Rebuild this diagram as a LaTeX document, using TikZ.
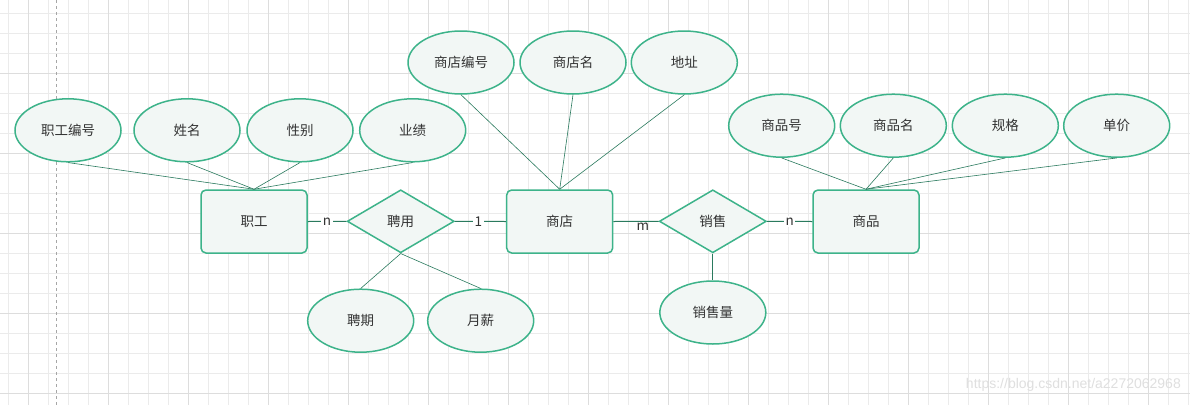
\documentclass[tikz,border=0pt]{standalone}
\usepackage{fontspec}
\setmainfont{Noto Sans CJK SC}
\newfontfamily\wmfont{Liberation Sans}
\usetikzlibrary{shapes.geometric}
\definecolor{strokec}{HTML}{3DB38A}
\definecolor{fillc}{HTML}{F2F7F5}
\definecolor{connc}{HTML}{2A7A5E}
\definecolor{txtc}{HTML}{333333}
\definecolor{gridminor}{HTML}{EBEBEB}
\definecolor{gridmajor}{HTML}{DDDDDD}
\begin{document}
\begin{tikzpicture}[x=1pt,y=-1pt,
  lbl/.style={text=txtc, font=\fontsize{13.5}{15}\selectfont},
  attr/.style={lbl, ellipse, draw=strokec, fill=fillc, line width=1.5pt, minimum width=106pt, minimum height=63pt, inner sep=0pt},
  ent/.style={lbl, rectangle, rounded corners=5pt, draw=strokec, fill=fillc, line width=1.5pt, minimum width=106pt, minimum height=63pt, inner sep=0pt},
  rel/.style={lbl, diamond, aspect=1.7, draw=strokec, fill=fillc, line width=1.5pt, minimum width=107pt, minimum height=63pt, inner sep=0pt},
  link/.style={draw=connc, line width=0.6pt},
  card/.style={fill=white, inner sep=1.5pt, text=txtc, font=\fontsize{13.5}{15}\selectfont}]
\useasboundingbox (0,0) rectangle (1190,405);
\fill[white] (0,0) rectangle (1190,405);
% grid
\foreach \k in {0,...,59} \draw[gridminor, line width=0.8pt] ({8.3+20*\k},0) -- ({8.3+20*\k},405);
\foreach \k in {0,...,20} \draw[gridminor, line width=0.8pt] (0,{13.3+20*\k}) -- (1190,{13.3+20*\k});
\foreach \k in {0,...,14} \draw[gridmajor, line width=0.8pt] ({28.3+80*\k},0) -- ({28.3+80*\k},405);
\foreach \k in {0,...,4} \draw[gridmajor, line width=0.8pt] (0,{73.3+80*\k}) -- (1190,{73.3+80*\k});
\draw[gray!70, dashed, line width=0.8pt] (56.7,0) -- (56.7,405);
% watermark
\node[text=gray!25, font=\wmfont\fontsize{14}{16}\selectfont, anchor=east, inner sep=0pt] (wm) at (1181,385) {https://blog.csdn.net/a2272062968};

% entities
\node[ent] (zg) at (254,221.5) {职工};
\node[ent] (sd) at (559.7,221.5) {商店};
\node[ent] (sp) at (866,221.5) {商品};
% relations
\node[rel] (py) at (400.7,221.3) {聘用};
\node[rel] (xs) at (712.8,221.3) {销售};
% attributes of 职工
\node[attr] (zgbh) at (68,130.3) {职工编号};
\node[attr] (xm) at (187,130.3) {姓名};
\node[attr] (xb) at (300,130.3) {性别};
\node[attr] (yj) at (412.7,130.3) {业绩};
% attributes of 商店
\node[attr] (sdbh) at (461,62.5) {商店编号};
\node[attr] (sdm) at (573,62.5) {商店名};
\node[attr] (dz) at (684.3,62.5) {地址};
% attributes of 商品
\node[attr] (sph) at (781.7,125.7) {商品号};
\node[attr] (spm) at (893.3,125.7) {商品名};
\node[attr] (gg) at (1005.3,125.7) {规格};
\node[attr] (dj) at (1116.7,125.7) {单价};
% attributes of relations
\node[attr] (pq) at (360.7,320.7) {聘期};
\node[attr] (yx) at (480.7,320.7) {月薪};
\node[attr] (xsl) at (712.8,312.5) {销售量};

% connectors
\foreach \a in {zgbh,xm,xb,yj} \draw[link] (\a.south) -- (zg.north);
\foreach \a in {sdbh,sdm,dz} \draw[link] (\a.south) -- (sd.north);
\foreach \a in {sph,spm,gg,dj} \draw[link] (\a.south) -- (sp.north);
\draw[link] (py.south) -- (pq.north);
\draw[link] (py.south) -- (yx.north);
\draw[link, line width=1pt] (xs.south) -- (xsl.north);
\draw[link, line width=1pt] (zg.east) -- node[card] {n} (py.west);
\draw[link, line width=1pt] (py.east) -- node[card, pos=0.46] {1} (sd.west);
\draw[link, line width=1pt] (sd.east) -- node[text=txtc, font=\fontsize{13.5}{15}\selectfont, pos=0.65, below, inner sep=0pt, yshift=-1pt] {m} (xs.west);
\draw[link, line width=1pt] (xs.east) -- node[card] {n} (sp.west);
\end{tikzpicture}
\end{document}
